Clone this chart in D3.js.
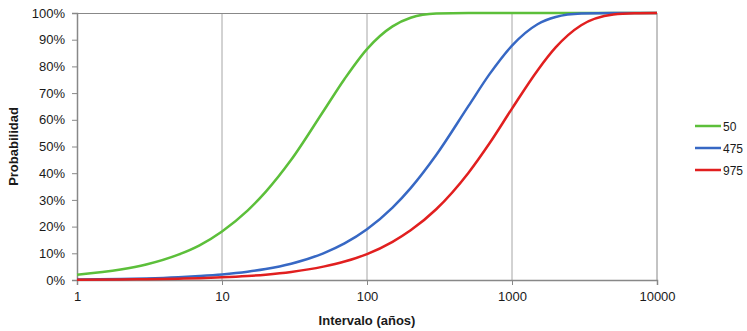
<!DOCTYPE html>
<html>
<head>
<meta charset="utf-8">
<script src="https://cdn.jsdelivr.net/npm/d3@7"></script>
<style>
  body { margin: 0; background: #fff; }
  text { font-family: "Liberation Sans", Arial, sans-serif; fill: #1a1a1a; }
</style>
</head>
<body>
<div id="chart"></div>
<script>
// interval in years (x) and probability of exceedance per return period
const intervals = [1, 2, 3, 5, 7, 10, 15, 20, 30, 50, 70, 100, 150, 200, 300, 500, 700, 1000, 1500, 2000, 3000, 5000, 7000, 10000];
const p50  = [0.020, 0.039, 0.058, 0.095, 0.130, 0.182, 0.260, 0.330, 0.450, 0.632, 0.753, 0.865, 0.950, 0.982, 0.998, 1.0, 1.0, 1.0, 1.0, 1.0, 1.0, 1.0, 1.0, 1.0];
const p475 = [0.002, 0.004, 0.006, 0.0105, 0.015, 0.021, 0.031, 0.041, 0.061, 0.100, 0.137, 0.190, 0.271, 0.344, 0.468, 0.651, 0.771, 0.878, 0.958, 0.985, 0.998, 1.0, 1.0, 1.0];
const p975 = [0.001, 0.002, 0.003, 0.005, 0.007, 0.010, 0.015, 0.020, 0.030, 0.050, 0.069, 0.097, 0.143, 0.186, 0.265, 0.401, 0.512, 0.642, 0.785, 0.871, 0.954, 0.994, 0.999, 1.0];
const seriesNames = ['50', '475', '975'];
const seriesColors = ['#5cbf3a', '#3768c4', '#e11f1f'];
const xTicks = [1, 10, 100, 1000, 10000];
const yTicks = [0, 0.1, 0.2, 0.3, 0.4, 0.5, 0.6, 0.7, 0.8, 0.9, 1.0];

const width = 747, height = 331;
const margin = { left: 77, right: 90, top: 13, bottom: 51 };
const w = width - margin.left - margin.right;
const h = height - margin.top - margin.bottom;

const svg = d3.select('#chart').append('svg')
  .attr('width', width)
  .attr('height', height);

const g = svg.append('g')
  .attr('transform', `translate(${margin.left},${margin.top})`);

const x = d3.scaleLog().domain([1, 10000]).range([0, w]);
const y = d3.scaleLinear().domain([0, 1]).range([h, 0]);

// vertical gridlines
g.selectAll('.grid')
  .data(xTicks.slice(1, -1))
  .enter()
  .append('line')
  .attr('x1', d => x(d)).attr('x2', d => x(d))
  .attr('y1', 0).attr('y2', h)
  .attr('stroke', '#a6a6a6')
  .attr('stroke-width', 1);

// plot border (top and right)
g.append('line').attr('x1', 0).attr('x2', w).attr('y1', 0.5).attr('y2', 0.5)
  .attr('stroke', '#888').attr('stroke-width', 1);
g.append('line').attr('x1', w).attr('x2', w).attr('y1', 0).attr('y2', h)
  .attr('stroke', '#888').attr('stroke-width', 1);

// axes
const xAxis = g.append('g')
  .attr('transform', `translate(0,${h})`)
  .call(d3.axisBottom(x).tickValues(xTicks).tickFormat(d3.format('d')).tickSize(5).tickPadding(7));
const yAxis = g.append('g')
  .call(d3.axisLeft(y).tickValues(yTicks).tickFormat(d3.format('.0%')).tickSize(5).tickPadding(7));

[xAxis, yAxis].forEach(a => {
  a.select('.domain').attr('stroke', '#888').attr('stroke-width', 1.5);
  a.selectAll('.tick line').attr('stroke', '#888');
  a.selectAll('.tick text').attr('font-size', 13).attr('fill', '#1a1a1a')
    .style('font-family', '"Liberation Sans", Arial, sans-serif');
});

// lines
const series = [p50, p475, p975];
const line = d3.line()
  .x((d, i) => x(intervals[i]))
  .y(d => y(d))
  .curve(d3.curveMonotoneX);

series.forEach((s, k) => {
  g.append('path')
    .datum(s)
    .attr('fill', 'none')
    .attr('stroke', seriesColors[k])
    .attr('stroke-width', 2.5)
    .attr('d', line);
});

// axis titles
svg.append('text')
  .attr('x', margin.left + w / 2)
  .attr('y', 325)
  .attr('text-anchor', 'middle')
  .attr('font-size', 13)
  .attr('font-weight', 'bold')
  .text('Intervalo (años)');

svg.append('text')
  .attr('transform', `translate(18,${margin.top + h / 2}) rotate(-90)`)
  .attr('text-anchor', 'middle')
  .attr('font-size', 13)
  .attr('font-weight', 'bold')
  .text('Probabilidad');

// legend
const legend = svg.append('g').attr('transform', 'translate(695,126)');
seriesNames.forEach((name, k) => {
  const row = legend.append('g').attr('transform', `translate(0,${k * 22})`);
  row.append('line')
    .attr('x1', 0).attr('x2', 26)
    .attr('stroke', seriesColors[k])
    .attr('stroke-width', 2.5);
  row.append('text')
    .attr('x', 28).attr('y', 4.5)
    .attr('font-size', 12)
    .text(name);
});
</script>
</body>
</html>
